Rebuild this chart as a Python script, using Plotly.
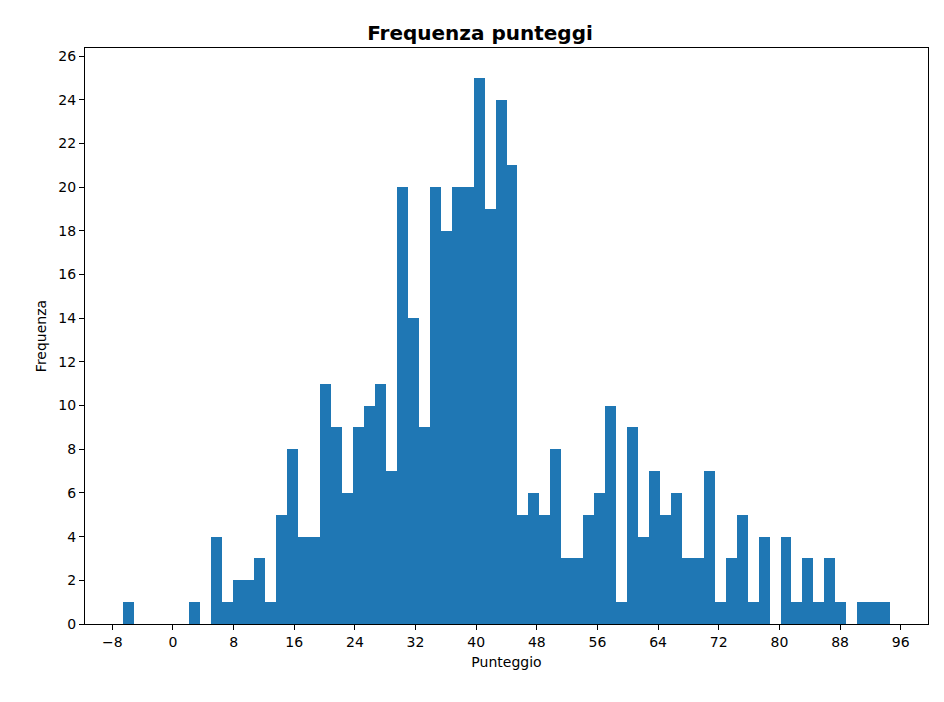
import plotly.graph_objects as go

counts = [1,0,0,0,0,0,1,0,4,1,2,2,3,1,5,8,4,4,11,9,6,9,10,11,7,20,14,9,20,18,
          20,20,25,19,24,21,5,6,5,8,3,3,5,6,10,1,9,4,7,5,6,3,3,7,1,3,5,1,4,0,
          4,1,3,1,3,1,0,1,1,1]
score_min = -6.6
score_max = 94.6
n_bins = len(counts)
bw = (score_max - score_min) / n_bins
centers = [score_min + bw * (i + 0.5) for i in range(n_bins)]
x_ticks = list(range(-8, 97, 8))
y_ticks = list(range(0, 27, 2))

fig = go.Figure(go.Bar(x=centers, y=counts, width=bw, marker=dict(color="#1f77b4", line=dict(width=0))))
ax = dict(showline=True, linecolor="black", mirror=True, ticks="outside", ticklen=5,
          tickcolor="black", showgrid=False, zeroline=False,
          tickfont=dict(size=14, color="black"))
fig.update_layout(
    width=944, height=702, plot_bgcolor="white", paper_bgcolor="white",
    font=dict(family="DejaVu Sans", color="black"),
    margin=dict(l=77, r=24, t=40, b=86),
    title=dict(text="<b>Frequenza punteggi</b>", x=0.5, xanchor="center", y=0.975, font=dict(size=20)),
    xaxis=dict(ax, range=[-11.6, 99.6], tickvals=x_ticks,
               ticktext=[str(v).replace("-", "\u2212") for v in x_ticks],
               title=dict(text="Punteggio", font=dict(size=14), standoff=8)),
    yaxis=dict(ax, range=[0, 26.37], tickvals=y_ticks,
               title=dict(text="Frequenza", font=dict(size=14), standoff=8)),
    bargap=0, showlegend=False,
)
fig.write_html("out.html")
